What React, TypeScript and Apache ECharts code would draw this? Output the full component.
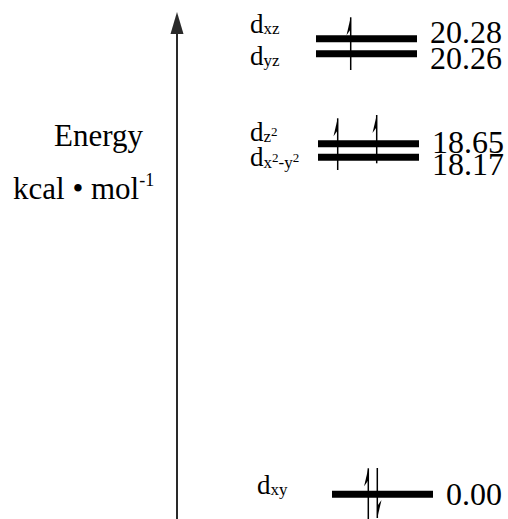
import React, { useEffect, useRef } from 'react';
import * as echarts from 'echarts';

// ---------------- data ----------------
const orbitalSubscripts = ['xz', 'yz', 'z2', 'x2-y2', 'xy'];
const energies = [20.28, 20.26, 18.65, 18.17, 0.0];
// each electron arrow: upper level it starts above, lower level it ends below, spin
const electronUpperLevel = [0, 2, 2, 4, 4];
const electronLowerLevel = [1, 3, 3, 4, 4];
const electronSpin = ['up', 'up', 'up', 'up', 'down'];
const axisTitle = 'Energy';
const axisUnit = 'kcal \u2022 mol';
const axisUnitExp = '-1';

// ---------------- layout (schematic diagram, not to scale) ----------------
const FAMILY = "'Liberation Serif', 'Times New Roman', serif";
const font = (size: number) => `${size}px ${FAMILY}`;
const Y_MAX = 99.2; // schematic ordinate units (5 px each)
const X_MAX = 331; // px to the right of the energy axis
const levelSlot = [96.06, 93.06, 75.06, 72.36, 4.94];
const levelX0 = [139, 139, 141, 141, 155];
const levelX1 = [240, 240, 242, 242, 256];
const valueDy = [-6.7, 4.2, -1.5, 7, -0.1];
const labelX = [73, 73, 73, 73, 80];
const labelBaseDy = [-1.7, 15.3, 1.5, 13.5, 3.7];
const electronX = [173.7, 160.7, 199.7, 191.3, 200.3];
const electronTopDy = [-21.4, -25.4, -28.7, -26, -26.3];
const electronBottomDy = [16.3, 12.8, 6.1, 26, 23.7];

const VALUE_SIZE = 32;
const TITLE_SIZE = 31;
const D_SIZE = 27;
const SUB_SIZE = 17;
const SUP_SIZE = 13;

function richLabel(sub: string): string {
  let out = '{d|d}';
  let buf = '';
  for (const ch of sub) {
    if (ch === '2') {
      if (buf) out += `{s|${buf}}`;
      buf = '';
      out += '{p|2}';
    } else {
      buf += ch;
    }
  }
  if (buf) out += `{s|${buf}}`;
  return out;
}

const labelRich = {
  d: { font: font(D_SIZE), lineHeight: D_SIZE - 6, fill: '#000', verticalAlign: 'bottom' },
  s: { font: font(SUB_SIZE), lineHeight: SUB_SIZE - 4, fill: '#000', verticalAlign: 'bottom' },
  p: {
    font: font(SUP_SIZE),
    lineHeight: SUP_SIZE - 3,
    fill: '#000',
    verticalAlign: 'bottom',
    padding: [0, 0, 7, 0],
  },
};

function buildOption(): any {
  const levelData = energies.map((e, i) => ({
    name: 'd' + orbitalSubscripts[i],
    value: [levelX0[i], levelSlot[i], e],
  }));
  const electronData = electronSpin.map((s, i) => ({
    name: s,
    value: [electronX[i], levelSlot[electronUpperLevel[i]]],
  }));

  return {
    animation: false,
    backgroundColor: '#ffffff',
    grid: { left: 177, right: 0, top: 23, bottom: 0, containLabel: false },
    xAxis: {
      type: 'value',
      min: 0,
      max: X_MAX,
      show: false,
    },
    yAxis: {
      type: 'value',
      min: 0,
      max: Y_MAX,
      axisLabel: { show: false },
      axisTick: { show: false },
      splitLine: { show: false },
      axisLine: {
        show: true,
        onZero: false,
        symbol: ['none', 'triangle'],
        symbolSize: [13, 22],
        lineStyle: { color: '#2a2a2a', width: 2 },
      },
    },
    graphic: [
      {
        type: 'text',
        x: 54,
        y: 135,
        style: {
          text: axisTitle,
          font: font(TITLE_SIZE),
          fill: '#000',
          align: 'left',
          verticalAlign: 'middle',
        },
      },
      {
        type: 'text',
        x: 13,
        y: 188.5,
        style: {
          text: `{m|${axisUnit}}{p|${axisUnitExp}}`,
          align: 'left',
          verticalAlign: 'middle',
          rich: {
            m: { font: font(TITLE_SIZE), lineHeight: TITLE_SIZE, fill: '#000', verticalAlign: 'bottom' },
            p: {
              font: font(18),
              lineHeight: 14,
              fill: '#000',
              verticalAlign: 'bottom',
              padding: [0, 0, 15, 0],
            },
          },
        },
      },
    ],
    series: [
      {
        type: 'custom',
        name: 'levels',
        data: levelData,
        encode: { x: 0, y: 1 },
        clip: false,
        renderItem: (params: any, api: any) => {
          const i = params.dataIndex;
          const p0 = api.coord([levelX0[i], levelSlot[i]]);
          const p1 = api.coord([levelX1[i], levelSlot[i]]);
          const pl = api.coord([labelX[i], levelSlot[i]]);
          const yc = p0[1];
          return {
            type: 'group',
            children: [
              {
                type: 'rect',
                shape: { x: p0[0], y: yc - 3.5, width: p1[0] - p0[0], height: 7 },
                style: { fill: '#000' },
              },
              {
                type: 'text',
                style: {
                  text: energies[i].toFixed(2),
                  x: p1[0] + 13,
                  y: yc + valueDy[i],
                  font: font(VALUE_SIZE),
                  lineHeight: 20,
                  fill: '#000',
                  align: 'left',
                  verticalAlign: 'middle',
                },
              },
              {
                type: 'text',
                style: {
                  text: richLabel(orbitalSubscripts[i]),
                  x: pl[0],
                  y: yc + labelBaseDy[i],
                  align: 'left',
                  verticalAlign: 'bottom',
                  rich: labelRich,
                },
              },
            ],
          };
        },
      },
      {
        type: 'custom',
        name: 'electrons',
        data: electronData,
        encode: { x: 0, y: 1 },
        clip: false,
        z: 3,
        renderItem: (params: any, api: any) => {
          const i = params.dataIndex;
          const x = api.coord([electronX[i], 0])[0];
          const yTop = api.coord([0, levelSlot[electronUpperLevel[i]]])[1] + electronTopDy[i];
          const yBot = api.coord([0, levelSlot[electronLowerLevel[i]]])[1] + electronBottomDy[i];
          const up = electronSpin[i] === 'up';
          const barb = up
            ? [
                [x, yTop],
                [x - 4.2, yTop + 18],
                [x, yTop + 12],
              ]
            : [
                [x, yBot],
                [x + 4.2, yBot - 18],
                [x, yBot - 12],
              ];
          return {
            type: 'group',
            children: [
              {
                type: 'line',
                shape: { x1: x, y1: yTop, x2: x, y2: yBot },
                style: { stroke: '#000', lineWidth: 1.5 },
              },
              {
                type: 'polygon',
                shape: { points: barb },
                style: { fill: '#000' },
              },
            ],
          };
        },
      },
    ],
  };
}

export default function App() {
  const ref = useRef<HTMLDivElement>(null);
  useEffect(() => {
    if (!ref.current) return;
    const chart = echarts.init(ref.current, null, { renderer: 'svg' });
    chart.setOption(buildOption());
    return () => chart.dispose();
  }, []);
  return (
    <div
      ref={ref}
      style={{ position: 'absolute', left: 0, top: 0, width: 508, height: 519, background: '#fff' }}
    />
  );
}
